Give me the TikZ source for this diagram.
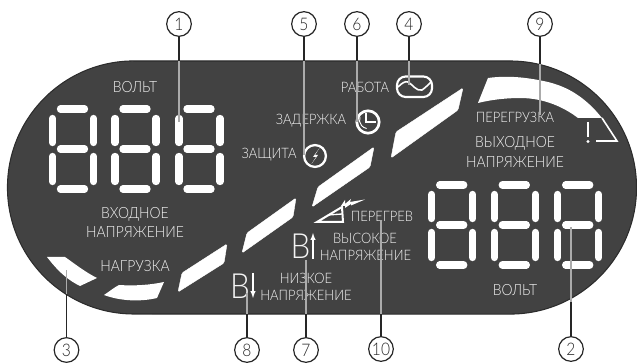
\documentclass[tikz,border=0pt]{standalone}
\usepackage{fontspec}
\setmainfont{Lato Light}[FakeStretch=0.9]
\definecolor{panelgray}{HTML}{424242}
\definecolor{panelline}{HTML}{2C2C2C}
\definecolor{leadgray}{HTML}{ABABAB}
\definecolor{labelwhite}{HTML}{F4F4F4}
\tikzset{
  ledseg/.style={white,line width=5.5pt,line cap=round},
  ledbar/.style={fill=white,draw=white,line width=0.3pt,rounded corners=1pt},
  icon/.style={white,line width=1.6pt},
  thinicon/.style={white,line width=1.2pt},
  numcircle/.style={circle,draw=black!85,line width=0.9pt,minimum size=18.5pt,inner sep=0pt,
    font=\fontsize{13}{13}\selectfont,text=black!85},
  bigtext/.style={text=labelwhite,font=\fontsize{11.6}{11.6}\selectfont,inner sep=0pt},
  smalltext/.style={text=labelwhite,font=\fontsize{10.8}{10.8}\selectfont,inner sep=0pt},
  bletter/.style={text=labelwhite,font=\fontsize{26}{26}\selectfont,inner sep=0pt},
  leadout/.style={black!85,line width=0.9pt},
  leadin/.style={leadgray,line width=1.1pt}
}
% one seven-segment digit: left edge, top row
\newcommand{\leddigit}[2]{
  \draw[ledseg] ({#1+8},#2) -- ({#1+32},#2);
  \draw[ledseg] ({#1+8},{#2+40}) -- ({#1+32},{#2+40});
  \draw[ledseg] ({#1+8},{#2+80}) -- ({#1+32},{#2+80});
  \draw[ledseg] (#1,{#2+9.5}) -- (#1,{#2+33.5});
  \draw[ledseg] ({#1+41},{#2+9.5}) -- ({#1+41},{#2+33.5});
  \draw[ledseg] (#1,{#2+47.5}) -- (#1,{#2+72.5});
  \draw[ledseg] ({#1+41},{#2+47.5}) -- ({#1+41},{#2+72.5});
}
\begin{document}
\begin{tikzpicture}[x=0.75pt,y=-0.75pt]
    \useasboundingbox (0,0) rectangle (637,363);
    % Panel
    \fill[panelgray,draw=panelline,line width=0.8pt] (134,61) -- (510,61)
      arc (90:-90:94.9pt) -- (134,314) arc (270:90:94.9pt) -- cycle;
    % Digits
    \leddigit{52.5}{109}
    \leddigit{115}{109}
    \leddigit{179}{109}
    \leddigit{431.7}{185}
    \leddigit{494.3}{185}
    \leddigit{557.7}{185}
    % Level bars
    \draw[ledbar] (182,273) -- (227,244) -- (224,263) -- (178,292) -- cycle;
    \draw[ledbar] (247,233) -- (296,198) -- (293,217) -- (242,253) -- cycle;
    \draw[ledbar] (318,187) -- (374,147) -- (370,167) -- (312,207) -- cycle;
    \draw[ledbar] (396,132) -- (463,88) -- (458,110) -- (391,158) -- cycle;
    % Load segments
    \fill[white] (47,257) -- (65,257) .. controls (75,264) and (85,272) .. (97,278)
      -- (80,286) .. controls (70,281) and (60,274) .. (47,257) -- cycle;
    \fill[white] (104,295) .. controls (110,291) and (115,287) .. (119,285)
      .. controls (135,286) and (150,285) .. (164,282) -- (157,298)
      .. controls (140,302) and (120,301) .. (104,295) -- cycle;
    % Overload arc
    \fill[white] (478,103) -- (488,78) .. controls (510,75) and (530,78) .. (548,82)
      .. controls (568,87) and (585,97) .. (602,118) -- (578,118)
      .. controls (565,108) and (545,98) .. (520,98) .. controls (505,98) and (490,100) .. (478,103) -- cycle;
    \draw[thinicon,line join=miter] (602,118) -- (617,141) -- (596,141);
    \draw[white,line width=1.5pt] (588,122) -- (588,137);
    \fill[white] (588,141.5) circle (1.2pt);
    % Work icon
    \draw[icon,rounded corners=6.5pt] (397,76.5) rectangle (432,97);
    \draw[thinicon] (398,87) .. controls (402,83) and (405,81) .. (408,82)
      .. controls (412,84) and (417,92) .. (422,90) .. controls (425,88) and (428,85) .. (431,82);
    % Delay icon
    \draw[white,line width=2pt] (368,122) circle (8.4pt);
    \draw[thinicon] (366,113) -- (366,122) -- (376,122);
    \draw[white,line width=0.7pt] (360,117) arc (160:260:6.5pt);
    % Protection icon
    \draw[white,line width=1.7pt] (315,156) circle (8.2pt);
    \fill[white] (319.5,148) -- (313,157) -- (316,157) -- (311.5,164) -- (318,155) -- (315,155) -- cycle;
    % Heat icon
    \draw[white,line width=1.5pt,line join=miter] (317,222) -- (342,207) -- (343,222) -- cycle;
    \draw[white,line width=1pt] (328,215) -- (342,214);
    \fill[white] (341,206) -- (345,200) -- (345,204) -- (351,199) -- (350,202) -- (365,199.5)
      -- (351,205.5) -- (351,204) -- (345,208) -- (345,206) -- cycle;
    % Labels
    \node[bigtext] (voltin) at (135,87) {ВОЛЬТ};
    \node[bigtext] (inword) at (135,214) {ВХОДНОЕ};
    \node[bigtext] (involt) at (135,232) {НАПРЯЖЕНИЕ};
    \node[bigtext] (load) at (135,266) {НАГРУЗКА};
    \node[smalltext] (protect) at (269,155) {ЗАЩИТА};
    \node[smalltext] (delay) at (311,121) {ЗАДЕРЖКА};
    \node[smalltext] (work) at (365,87) {РАБОТА};
    \node[smalltext] (over) at (515,117) {ПЕРЕГРУЗКА};
    \node[bigtext] (outword) at (515,143) {ВЫХОДНОЕ};
    \node[bigtext] (outvolt) at (515,162) {НАПРЯЖЕНИЕ};
    \node[smalltext] (heat) at (382,216) {ПЕРЕГРЕВ};
    \node[smalltext] (highword) at (365,238) {ВЫСОКОЕ};
    \node[smalltext] (highvolt) at (365.5,255) {НАПРЯЖЕНИЕ};
    \node[smalltext] (lowword) at (306,278) {НИЗКОЕ};
    \node[smalltext] (lowvolt) at (306,295) {НАПРЯЖЕНИЕ};
    \node[bigtext] (voltout) at (515,290) {ВОЛЬТ};
    % Battery marks
    \node[bletter] (blow) at (240,286) {В};
    \node[bletter] (bhigh) at (300.5,246.5) {В};
    \draw[-latex,white,line width=0.8pt] (253,273) -- (253,298);
    \draw[-latex,white,line width=0.8pt] (313,259) -- (313,233);
    % Number circles
    \node[numcircle] (n1) at (179,24) {1};
    \node[numcircle] (n5) at (304,24) {5};
    \node[numcircle] (n6) at (357,24) {6};
    \node[numcircle] (n4) at (409,24) {4};
    \node[numcircle] (n9) at (540,24) {9};
    \node[numcircle] (n3) at (66.5,350) {3};
    \node[numcircle] (n8) at (247,350) {8};
    \node[numcircle] (n7) at (306,350) {7};
    \node[numcircle] (n10) at (381,349) {10};
    \node[numcircle] (n2) at (571,349) {2};
    % Edge of the panel on each leader
    \coordinate (m1) at (179,61);
    \coordinate (m5) at (304,61);
    \coordinate (m6) at (357,61);
    \coordinate (m4) at (409,61);
    \coordinate (m9) at (540,64);
    \coordinate (m3) at (66.5,294);
    \coordinate (m8) at (247,314);
    \coordinate (m7) at (306,314);
    \coordinate (m10) at (381,314);
    \coordinate (m2) at (571,302);
    % Free ends of the leaders
    \coordinate (e1) at (179,122);
    \coordinate (e5) at (304,155);
    \coordinate (e6) at (357,122);
    \coordinate (e4) at (409,85);
    \coordinate (e9) at (540,115);
    \coordinate (e3) at (66.5,270);
    \coordinate (e8) at (247,293);
    \coordinate (e7) at (306,260);
    \coordinate (e10) at (381,220);
    \coordinate (e2) at (571,227);
    % Leaders
    \draw[leadout] (n1) -- (m1);
    \draw[leadin] (m1) -- (e1);
    \draw[leadout] (n5) -- (m5);
    \draw[leadin] (m5) -- (e5);
    \draw[leadout] (n6) -- (m6);
    \draw[leadin] (m6) -- (e6);
    \draw[leadout] (n4) -- (m4);
    \draw[leadin] (m4) -- (e4);
    \draw[leadout] (n9) -- (m9);
    \draw[leadin] (m9) -- (e9);
    \draw[leadout] (n3) -- (m3);
    \draw[leadin] (m3) -- (e3);
    \draw[leadout] (n8) -- (m8);
    \draw[leadin] (m8) -- (e8);
    \draw[leadout] (n7) -- (m7);
    \draw[leadin] (m7) -- (e7);
    \draw[leadout] (n10) -- (m10);
    \draw[leadin] (m10) -- (e10);
    \draw[leadout] (n2) -- (m2);
    \draw[leadin] (m2) -- (e2);
  \end{tikzpicture}
\end{document}
